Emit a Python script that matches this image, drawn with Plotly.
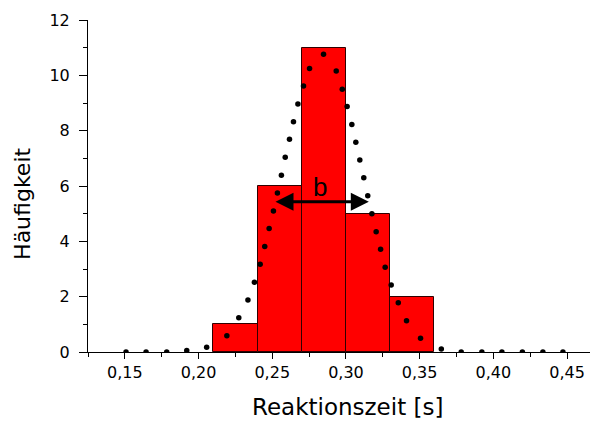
import plotly.graph_objects as go

# Histogram data
bin_centers = [0.225, 0.255, 0.285, 0.315, 0.345]
counts = [1, 6, 11, 5, 2]
bin_width = 0.03

# Dotted Gauss-fit curve points
fit_x = [0.1508, 0.1644, 0.1784, 0.1920, 0.2055, 0.2192, 0.2273, 0.2335, 0.2379,
         0.2418, 0.2449, 0.2479, 0.2508, 0.2535, 0.2562, 0.2588, 0.2617, 0.2644,
         0.2674, 0.2712, 0.2753, 0.2848, 0.2934, 0.2975, 0.3008, 0.3040, 0.3067,
         0.3094, 0.3121, 0.3148, 0.3176, 0.3205, 0.3235, 0.3266, 0.3307, 0.3355,
         0.3411, 0.3506, 0.3647, 0.3782, 0.3922, 0.4058, 0.4197, 0.4336, 0.4472]
fit_y = [0.0, 0.0, 0.0, 0.05, 0.17, 0.59, 1.24, 1.88, 2.52,
         3.17, 3.81, 4.46, 5.10, 5.75, 6.39, 7.04, 7.69, 8.32,
         8.96, 9.61, 10.25, 10.76, 10.16, 9.50, 8.87, 8.22, 7.58,
         6.94, 6.30, 5.65, 5.00, 4.35, 3.71, 3.06, 2.42, 1.78,
         1.13, 0.50, 0.11, 0.0, 0.0, 0.0, 0.0, 0.0, 0.0]

# Width marker "b"
b_left, b_right, b_y = 0.2512, 0.3155, 5.43
b_label_x, b_label_y = 0.2827, 5.97

x_title = "Reaktionszeit [s]"
y_title = "Häufigkeit"

FONT = "DejaVu Sans, sans-serif"
FONT_B = "Liberation Sans, Arial, sans-serif"

fig = go.Figure()
fig.add_trace(go.Bar(
    x=bin_centers, y=counts, width=[bin_width] * len(counts),
    marker=dict(color="#FF0000", line=dict(color="#300000", width=1)),
    showlegend=False,
))
fig.add_trace(go.Scatter(
    x=fit_x, y=fit_y, mode="markers",
    marker=dict(color="black", size=5.5),
    showlegend=False,
))

fig.add_annotation(
    x=b_right, y=b_y, ax=b_left, ay=b_y, xref="x", yref="y", axref="x", ayref="y",
    text="", showarrow=True, arrowhead=2, startarrowhead=2, arrowside="end+start",
    arrowwidth=3, arrowsize=1.2, startarrowsize=1.2, arrowcolor="black",
)
fig.add_annotation(
    x=b_label_x, y=b_label_y, xref="x", yref="y", text="b", showarrow=False,
    font=dict(family=FONT_B, size=26, color="black"),
)
# axis titles as annotations (positioned like the reference)
fig.add_annotation(
    x=0.509, y=-0.165, xref="paper", yref="paper", text=x_title, showarrow=False,
    xanchor="center", yanchor="middle", font=dict(family=FONT, size=23, color="black"),
)
fig.add_annotation(
    x=-0.1275, y=0.446, xref="paper", yref="paper", text=y_title, showarrow=False,
    textangle=-90, xanchor="center", yanchor="middle",
    font=dict(family=FONT, size=22, color="black"),
)

# page body has an 8px margin, so the figure is 8px smaller than the window
fig.update_layout(
    width=590, height=415,
    margin=dict(l=80, r=0, t=12, b=71),
    paper_bgcolor="white", plot_bgcolor="white",
    separators=",.",
    bargap=0,
    font=dict(family=FONT, color="black"),
)
fig.update_xaxes(
    range=[0.125, 0.471], tick0=0.15, dtick=0.05, tickformat=".2f",
    ticks="outside", ticklen=6, tickwidth=1, tickcolor="black",
    minor=dict(ticks="outside", ticklen=4, dtick=0.025, tick0=0.125, tickcolor="black"),
    showline=True, linecolor="black", linewidth=1, showgrid=False, zeroline=False,
    tickfont=dict(size=16, family=FONT), ticklabelstandoff=0,
)
fig.update_yaxes(
    range=[0, 12], tick0=0, dtick=2,
    ticks="outside", ticklen=8, tickwidth=1, tickcolor="black",
    minor=dict(ticks="outside", ticklen=4, dtick=1, tickcolor="black"),
    showline=True, linecolor="black", linewidth=1, showgrid=False, zeroline=False,
    tickfont=dict(size=16, family=FONT), ticklabelstandoff=6,
)

fig.write_html("out.html")
